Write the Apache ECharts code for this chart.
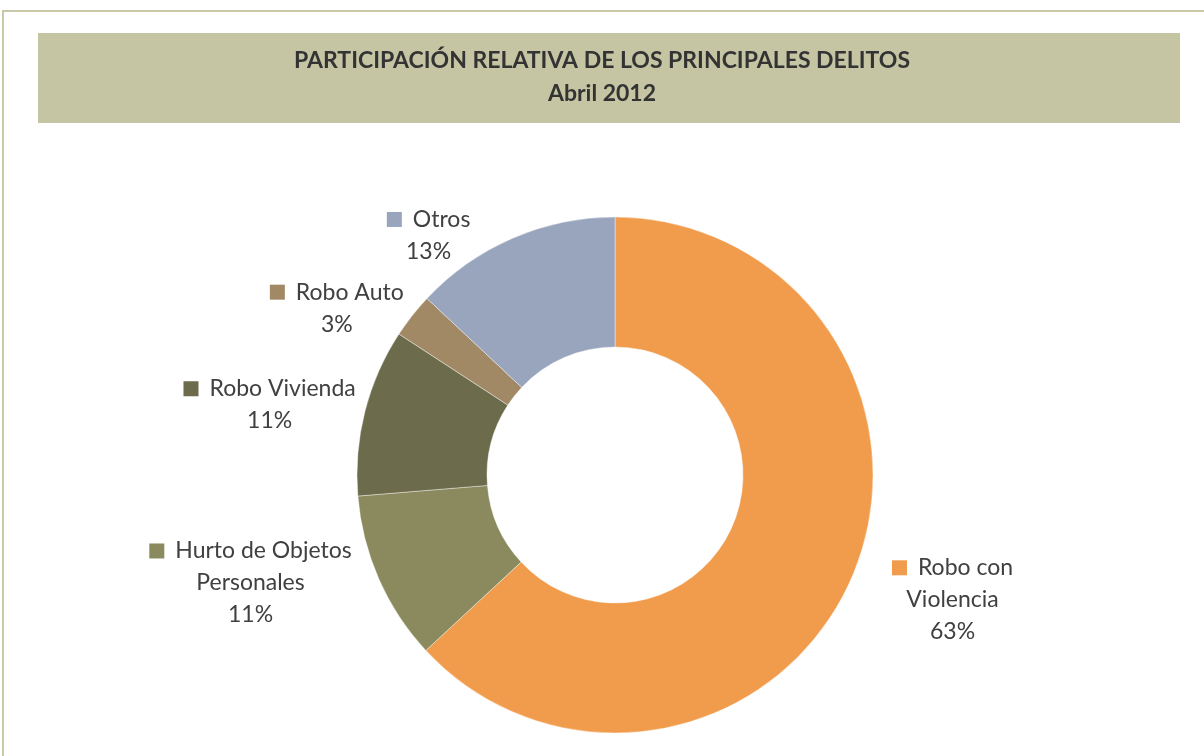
<!DOCTYPE html>
<html>
<head>
<meta charset="utf-8">
<script src="https://cdn.jsdelivr.net/npm/echarts@6/dist/echarts.min.js"></script>
<style>
html,body{margin:0;padding:0;background:#fff}
#chart{width:1204px;height:756px}
</style>
</head>
<body>
<div id="chart"></div>
<script>
const categories = ['Robo con Violencia', 'Hurto de Objetos Personales', 'Robo Vivienda', 'Robo Auto', 'Otros'];
const labelText = ['Robo con\nViolencia', 'Hurto de Objetos\nPersonales', 'Robo Vivienda', 'Robo Auto', 'Otros'];
const shares = [63.1, 10.6, 10.5, 2.8, 13.0];
const colors = ['#f19c4c', '#8b8a5e', '#6c6b4b', '#a28965', '#99a5bd'];
// label line lengths used only to place the text, lines are hidden
const lineLen = [[54, -14], [10, 13], [28, -23], [12, -6], [3, 36]];

const font = 'Lato, "Open Sans", sans-serif';
const txt = '#404040';

const chart = echarts.init(document.getElementById('chart'));

chart.setOption({
  animation: false,
  graphic: [
    {type: 'rect', shape: {x: 3, y: 11, width: 1220, height: 760}, style: {fill: 'none', stroke: '#c9c9a8', lineWidth: 2}, z: -10},
    {type: 'rect', shape: {x: 38, y: 33, width: 1142, height: 90}, style: {fill: '#c5c5a3'}, z: -5}
  ],
  title: {
    text: 'PARTICIPACIÓN RELATIVA DE LOS PRINCIPALES DELITOS\nAbril 2012',
    left: 'center', top: 39,
    textStyle: {fontFamily: font, fontWeight: 'bold', fontSize: 23, color: '#333', lineHeight: 33}
  },
  series: [{
    type: 'pie',
    center: [615, 475],
    radius: [128, 258],
    startAngle: 90,
    clockwise: true,
    avoidLabelOverlap: false,
    itemStyle: {borderColor: '#ffffff', borderWidth: 0.4},
    labelLine: {show: false},
    label: {
      show: true,
      position: 'outside',
      color: txt,
      fontFamily: font,
      fontSize: 23,
      lineHeight: 32,
      formatter: p => {
        const lines = labelText[p.dataIndex].split('\n');
        const out = ['{sq|}{g|}{t|' + lines[0] + '}'];
        for (let i = 1; i < lines.length; i++) out.push('{t|' + lines[i] + '}');
        out.push('{t|' + Math.round(p.percent) + '%}');
        return out.join('\n');
      },
      rich: {
        sq: {width: 15, height: 15, align: 'center'},
        g: {width: 11, align: 'center'},
        t: {fontFamily: font, fontSize: 23, color: txt, lineHeight: 32, align: 'center'}
      }
    },
    data: categories.map((c, i) => ({
      name: c,
      value: shares[i],
      itemStyle: {color: colors[i]},
      label: {rich: {sq: {width: 15, height: 15, backgroundColor: colors[i], align: 'center'}}},
      labelLine: {length: lineLen[i][0], length2: lineLen[i][1]}
    }))
  }]
});
</script>
</body>
</html>
